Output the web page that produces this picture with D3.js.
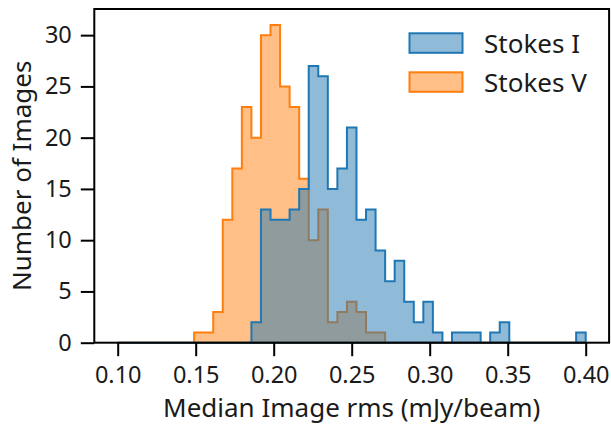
<!DOCTYPE html>
<html>
<head>
<meta charset="utf-8">
<script src="https://cdn.jsdelivr.net/npm/d3@7"></script>
<style>
  html, body { margin: 0; padding: 0; background: #fff; }
  svg { display: block; font-family: "Noto Sans", sans-serif; }
</style>
</head>
<body>
<svg id="chart" width="611" height="430"></svg>
<script>
// ---- data ----
const binStart = 0.1;
const binEnd = 0.4;
const binCount = 49;
const seriesNames = ["Stokes I", "Stokes V"];
const stokesI = [0,0,0,0,0,0,0,0,0,0,0,0,0,0,
  2,13,12,12,13,15,27,26,15,17,21,12,13,9,6,8,4,2,4,1,0,1,1,1,0,1,2,0,0,0,0,0,0,0,1];
const stokesV = [0,0,0,0,0,0,0,0,
  1,1,3,12,17,23,20,30,31,25,23,16,10,13,2,3,4,3,1,1,
  0,0,0,0,0,0,0,0,0,0,0,0,0,0,0,0,0,0,0,0,0];
const xTicks = [0.10, 0.15, 0.20, 0.25, 0.30, 0.35, 0.40];
const yTicks = [0, 5, 10, 15, 20, 25, 30];
const colors = ["#1f77b4", "#ff7f0e"];

// ---- layout ----
const svg = d3.select("#chart");
const L = 94.3, R = 609.1, T = 9, B = 342.7;
const binW = (binEnd - binStart) / binCount;
const edges = d3.range(binCount + 1).map(i => binStart + i * binW);
const pad = (binEnd - binStart) * 0.05;
const x = d3.scaleLinear().domain([binStart - pad, binEnd + pad]).range([L, R]);
const yMax = d3.max([...stokesI, ...stokesV]) * 1.05;
const y = d3.scaleLinear().domain([0, yMax]).range([B, T]);

function stepPoints(counts) {
  const pts = [[edges[0], 0]];
  counts.forEach((c, i) => { pts.push([edges[i], c]); pts.push([edges[i + 1], c]); });
  pts.push([edges[binCount], 0]);
  return pts;
}
const line = d3.line().x(d => x(d[0])).y(d => y(d[1]));

// draw Stokes V first, then Stokes I on top
[[stokesV, colors[1]], [stokesI, colors[0]]].forEach(([counts, col]) => {
  const p = line(stepPoints(counts)) + "Z";
  svg.append("path").attr("d", p).attr("fill", col).attr("fill-opacity", 0.5).attr("stroke", "none");
  svg.append("path").attr("d", p).attr("fill", "none").attr("stroke", col)
     .attr("stroke-width", 2).attr("stroke-linejoin", "miter");
});

// axes
const tickFs = 23.5, labFs = 26;
const txtCol = "#1a1a1a";
const xAxis = d3.axisBottom(x).tickValues(xTicks).tickFormat(d3.format(".2f")).tickSize(13.5).tickPadding(10);
const yAxis = d3.axisLeft(y).tickValues(yTicks).tickSize(13.5).tickPadding(9);
const gx = svg.append("g").attr("transform", `translate(0,${B})`).call(xAxis);
const gy = svg.append("g").attr("transform", `translate(${L},0)`).call(yAxis);
[gx, gy].forEach(g => {
  g.select(".domain").remove();
  g.selectAll(".tick line").attr("stroke", "#000").attr("stroke-width", 2);
  g.selectAll(".tick text").attr("fill", txtCol).style("font-size", tickFs + "px").style("font-family", "Noto Sans");
});

// spines
svg.append("rect").attr("x", L).attr("y", T).attr("width", R - L).attr("height", B - T)
   .attr("fill", "none").attr("stroke", "#000").attr("stroke-width", 2);

// labels
svg.append("text").attr("x", (L + R) / 2).attr("y", 417).attr("text-anchor", "middle")
   .style("font-size", labFs + "px").attr("fill", txtCol).text("Median Image rms (mJy/beam)");
svg.append("text").attr("transform", `translate(31,${(T + B) / 2}) rotate(-90)`).attr("text-anchor", "middle")
   .style("font-size", labFs + "px").attr("fill", txtCol).text("Number of Images");

// legend
const leg = svg.append("g");
seriesNames.forEach((name, i) => {
  const gy0 = 33.3 + i * 39;
  leg.append("rect").attr("x", 409.5).attr("y", gy0).attr("width", 53).attr("height", 19.5)
     .attr("fill", colors[i]).attr("fill-opacity", 0.5).attr("stroke", colors[i]).attr("stroke-width", 2);
  leg.append("text").attr("x", 484).attr("y", gy0 + 19.5).style("font-size", labFs + "px")
     .attr("fill", txtCol).text(name);
});
</script>
</body>
</html>
